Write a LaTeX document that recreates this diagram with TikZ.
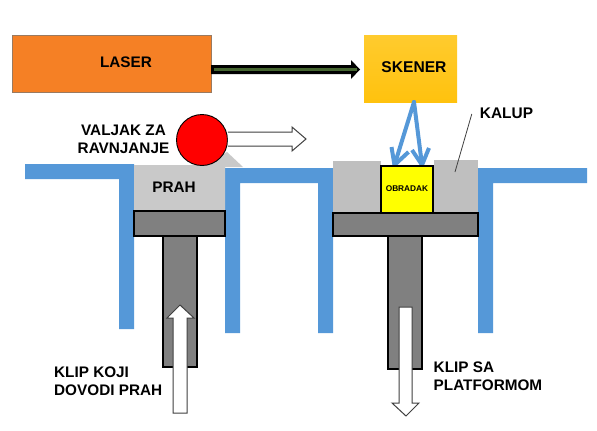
\documentclass[tikz,border=0pt]{standalone}
\usepackage{fontspec}
\setmainfont{Liberation Sans}
\usetikzlibrary{calc,arrows.meta}
\definecolor{wallblue}{HTML}{5598D8}
\definecolor{laserorange}{HTML}{F58025}
\definecolor{laseredge}{HTML}{9A7A60}
\definecolor{scanlow}{HTML}{FFC20E}
\definecolor{scanhigh}{HTML}{FFCB2E}
\definecolor{powdergray}{HTML}{C9C9C9}
\definecolor{moldgray}{HTML}{BFBFBF}
\definecolor{steelgray}{HTML}{808080}
\definecolor{beamgreen}{HTML}{456530}
\definecolor{workyellow}{HTML}{FFFF00}
\definecolor{rollerred}{HTML}{FF0000}
\tikzset{
  x=1pt,y=-1pt,
  box/.style={anchor=north west,inner sep=0pt,outer sep=0pt},
  steel/.style={box,draw=black,line width=1.1pt,fill=steelgray},
  wall/.style={fill=wallblue},
  label/.style={inner sep=0pt,font=\bfseries\fontsize{15.3}{17.7}\selectfont,text=black,align=center},
  blockarrow/.style={draw=black!75,line width=1pt,fill=white,line join=miter},
  beam/.style={draw=wallblue,line width=4pt,line cap=round},
}
\begin{document}
\begin{tikzpicture}
\useasboundingbox (0,0) rectangle (597,431);
\fill[white] (0,0) rectangle (597,431);
% blue walls
\fill[wall] (25,164) -- (134,164) -- (134,329) -- (119,329) -- (119,179) -- (25,179) -- cycle;
\fill[wall] (225,168) -- (333,168) -- (333,333) -- (318,333) -- (318,183) -- (240,183) -- (240,333) -- (225,333) -- cycle;
\fill[wall] (478,168) -- (587,168) -- (587,183) -- (493,183) -- (493,333) -- (478,333) -- cycle;
% powder
\fill[powdergray] (134,165) -- (205,165) -- (227,152) -- (243,167) -- (225,167) -- (225,211) -- (134,211) -- cycle;
% mold
\node[box,fill=moldgray,minimum width=48pt,minimum height=52pt] (moldl) at (333,161) {};
\node[box,fill=moldgray,minimum width=44pt,minimum height=53pt] (moldr) at (434,160) {};
% shafts and platforms
\node[steel,minimum width=34pt,minimum height=131pt] (shaftl) at (163,236) {};
\node[steel,minimum width=91pt,minimum height=25pt] (platl) at (134,211) {};
\node[steel,minimum width=34pt,minimum height=133pt] (shaftr) at (388,236) {};
\node[steel,minimum width=145pt,minimum height=23pt] (platr) at (333,213) {};
% laser and scanner
\node[box,draw=laseredge,line width=0.8pt,fill=laserorange,minimum width=199pt,minimum height=57pt] (laser) at (12,35) {};
\node[box,top color=scanhigh,bottom color=scanlow,minimum width=93pt,minimum height=67pt] (skener) at (364,35) {};
\node[label] (lasertext) at (126,62) {LASER};
\node[label,font=\bfseries\fontsize{15.6}{18}\selectfont] (skenertext) at (414,67) {SKENER};
% laser beam
\coordinate (beamstart) at ($(laser.east)+(0,6)$);
\coordinate (beamend) at ($(skener.west)+(-4,1)$);
\fill[black] (beamstart)++(0,-4.5) -- (351,65) -- (351,60) -- (beamend) -- (351,79) -- (351,74) -- (211,74) -- cycle;
\draw[beamgreen,line width=3.4pt] (214,69.5) -- (357,69.5);
% workpiece frame (named first so the scanner beams can end on it)
\node[box,minimum width=52pt,minimum height=47pt] (work) at (381,166) {};
% scanner beams
\coordinate (beamsrc) at ($(skener.south)+(3.5,0)$);
\coordinate (hitl) at ($(work.north)+(-12.5,-1)$);
\coordinate (hitr) at ($(work.north)+(15,-1)$);
\draw[beam] (beamsrc) -- (hitl);
\draw[beam] (beamsrc) -- (hitr);
\draw[beam,line join=miter,line cap=butt] ($(hitl)+(-3,-18)$) -- (hitl) -- ($(hitl)+(14,-13)$);
\draw[beam,line join=miter,line cap=butt] ($(hitr)+(-10,-15)$) -- (hitr) -- ($(hitr)+(7,-17)$);
% workpiece
\draw[draw=black,line width=1.1pt,fill=workyellow] (work.north west) rectangle (work.south east);
\node[inner sep=0pt,font=\bfseries\fontsize{8.3}{10}\selectfont] (worktext) at (407,189) {OBRADAK};
% roller
\node[draw=black,line width=0.9pt,fill=rollerred,circle,minimum size=51pt,inner sep=0pt] (roller) at (202,140) {};
\draw[blockarrow] (roller.east |- 0,132) -- (292,132) -- (292,127) -- (306,139) -- (292,151) -- (292,146) -- (roller.east |- 0,146);
% piston arrows
\draw[blockarrow] (173,413) -- (173,318) -- (167,318) -- (180,305) -- (194,318) -- (187,318) -- (187,413) -- cycle;
\draw[blockarrow] (399,307) -- (399,403) -- (392,403) -- (406,416) -- (419,403) -- (412,403) -- (412,307) -- cycle;
% labels
\node[label] (valjak) at (123.5,139.5) {VALJAK ZA\\RAVNJANJE};
\node[label] (prah) at (174,187) {PRAH};
\node[label,font=\bfseries\fontsize{15.4}{18}\selectfont] (kalup) at (506.5,113) {KALUP};
\coordinate (kalupend) at (455,172);
\draw[black!75,line width=0.8pt] ($(kalup.west)+(-8,1)$) -- (kalupend);
\node[label,align=left,anchor=west] (klipl) at (54,381) {KLIP KOJI\\DOVODI PRAH};
\node[label,align=left,anchor=west] (klipr) at (433.5,376.5) {KLIP SA\\PLATFORMOM};
\end{tikzpicture}
\end{document}
